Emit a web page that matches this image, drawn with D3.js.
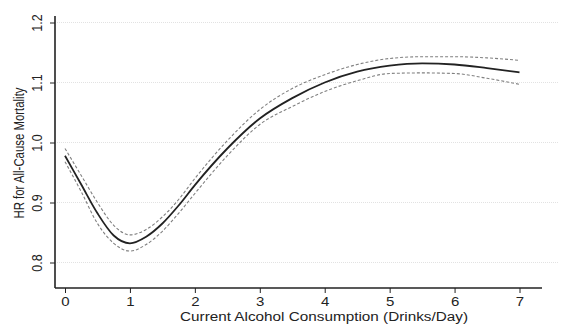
<!DOCTYPE html>
<html><head><meta charset="utf-8">
<script src="https://cdn.jsdelivr.net/npm/d3@7"></script>
<style>body{margin:0;background:#fff}svg{display:block}text{font-family:"Liberation Sans",Arial,sans-serif;fill:#222}</style>
</head><body><svg id="c" width="579" height="327"></svg>
<script>
const xs    = [0,0.25,0.5,0.75,1,1.25,1.5,1.75,2,2.5,3,3.5,4,4.5,5,5.5,6,6.5,7];
const hr    = [0.978,0.930,0.882,0.845,0.832,0.843,0.865,0.895,0.929,0.990,1.040,1.074,1.100,1.118,1.128,1.132,1.130,1.124,1.117];
const upper = [0.990,0.945,0.900,0.862,0.846,0.855,0.876,0.905,0.940,1.003,1.055,1.090,1.113,1.130,1.140,1.143,1.143,1.141,1.137];
const lower = [0.968,0.918,0.865,0.832,0.819,0.830,0.852,0.882,0.915,0.978,1.030,1.060,1.085,1.103,1.115,1.116,1.115,1.107,1.097];
const xTicks = [0,1,2,3,4,5,6,7];
const yTicks = [0.8,0.9,1.0,1.1,1.2];
const xTitle = "Current Alcohol Consumption (Drinks/Day)";
const yTitle = "HR for All-Cause Mortality";

const svg = d3.select("#c");
const x = d3.scaleLinear().domain([0,7]).range([65,519.5]);
const y = d3.scaleLinear().domain([0.8,1.2]).range([262.5,22.5]);
const pLeft = 55, pRight = 542, pTop = 16, pBottom = 288;

// gridlines
svg.append("g").selectAll("line").data(yTicks).join("line")
  .attr("x1",pLeft+2).attr("x2",559).attr("y1",d=>y(d)).attr("y2",d=>y(d))
  .attr("stroke","#e2e2e2").attr("stroke-width",1).attr("stroke-dasharray","1,1");

// axes
const xa = svg.append("g").attr("transform",`translate(0,${pBottom})`)
  .call(d3.axisBottom(x).tickValues(xTicks).tickFormat(d3.format("d")).tickSize(5).tickPadding(4).tickSizeOuter(0));
xa.select(".domain").attr("d",`M${pLeft},0H${pRight}`).attr("stroke","#222").attr("stroke-width",1.6);
xa.selectAll(".tick line").attr("stroke","#222").attr("stroke-width",1);
xa.selectAll(".tick text").attr("font-size",12.5).attr("fill","#222")
  .style("font-family","Liberation Sans, Arial, sans-serif")
  .attr("transform","scale(1.2,1)");

const ya = svg.append("g").attr("transform",`translate(${pLeft},0)`)
  .call(d3.axisLeft(y).tickValues(yTicks).tickFormat(d3.format(".1f")).tickSize(5).tickSizeOuter(0));
ya.select(".domain").attr("d",`M0,${pTop}V${pBottom}`).attr("stroke","#222").attr("stroke-width",1.6);
ya.selectAll(".tick line").attr("stroke","#222").attr("stroke-width",1);
ya.selectAll(".tick text").attr("font-size",12.5).attr("fill","#222")
  .style("font-family","Liberation Sans, Arial, sans-serif")
  .attr("x",null).attr("text-anchor","middle")
  .attr("transform","translate(-18,0) scale(1.2,1) rotate(-90)").attr("dy","0.35em");

// titles
svg.append("text").attr("x",324).attr("y",321).attr("text-anchor","middle")
  .attr("font-size",12.5).attr("textLength",288).attr("lengthAdjust","spacingAndGlyphs").text(xTitle);
svg.append("text").attr("transform","translate(24,153) scale(1.2,1) rotate(-90)").attr("text-anchor","middle")
  .attr("font-size",11.5).attr("textLength",131).attr("lengthAdjust","spacingAndGlyphs").text(yTitle);

// lines
const line = d3.line().x((d,i)=>x(xs[i])).y(d=>y(d)).curve(d3.curveMonotoneX);
svg.append("path").attr("d",line(upper)).attr("fill","none").attr("stroke","#808080").attr("stroke-width",1.1).attr("stroke-dasharray","3,2");
svg.append("path").attr("d",line(lower)).attr("fill","none").attr("stroke","#808080").attr("stroke-width",1.1).attr("stroke-dasharray","3,2");
svg.append("path").attr("d",line(hr)).attr("fill","none").attr("stroke","#222").attr("stroke-width",1.8);
</script></body></html>
